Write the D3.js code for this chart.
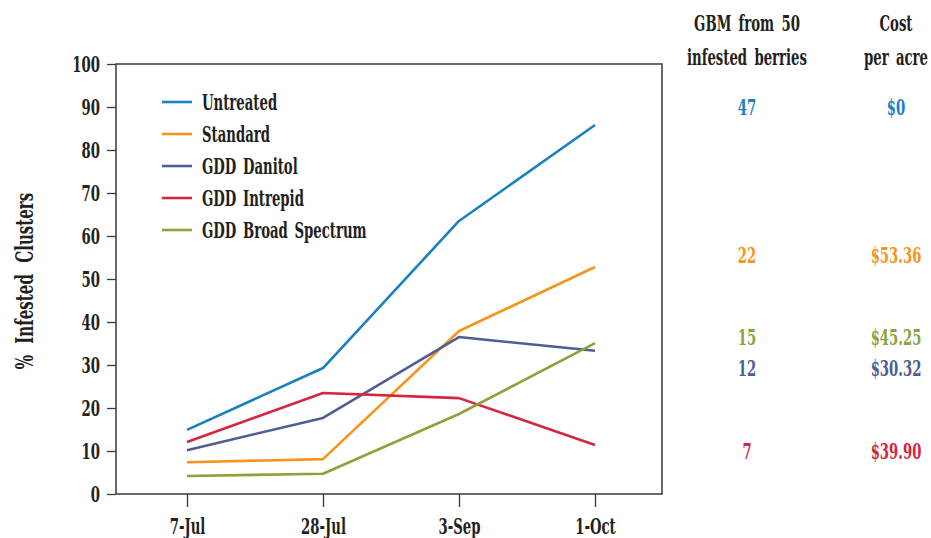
<!DOCTYPE html>
<html><head><meta charset="utf-8">
<script src="https://cdn.jsdelivr.net/npm/d3@7"></script>
<style>
body{margin:0;background:#fff;}
text{font-family:"DejaVu Serif Condensed","DejaVu Serif","Liberation Serif",serif;font-weight:bold;fill:#231f20;}
</style></head>
<body><svg id="c" width="931" height="538"></svg>
<script>
const dates = ["7-Jul","28-Jul","3-Sep","1-Oct"];
const seriesNames = ["Untreated","Standard","GDD Danitol","GDD Intrepid","GDD Broad Spectrum"];
const untreated = [14.9, 29.3, 63.5, 85.8];
const standard = [7.4, 8.1, 37.9, 52.8];
const danitol = [10.2, 17.7, 36.5, 33.3];
const intrepid = [12.1, 23.5, 22.3, 11.4];
const broad = [4.2, 4.7, 18.6, 35.1];
const yTicks = [0,10,20,30,40,50,60,70,80,90,100];
const colors = ["#1a80c0","#f7941d","#4e5e93","#d5253f","#8aa33b"];
// side table
const gbm = ["47","22","15","12","7"];
const cost = ["$0","$53.36","$45.25","$30.32","$39.90"];
const tableColors = ["#1a80c0","#f7941d","#8aa33b","#4e5e93","#d5253f"];
const tableRowValue = [90, 55.6, 36.6, 29.4, 9.9]; // vertical position in y-axis units
const gbmHeader = ["GBM from 50","infested berries"];
const costHeader = ["Cost","per acre"];

const SX = 0.67; // horizontal condensing of the type
const FS = 22;

const svg = d3.select("#c");
const L=116,R=662,T=64,B=494;
const x = d3.scalePoint().domain(dates).range([L+3,R+1]).padding(0.5);
const y = d3.scaleLinear().domain([0,100]).range([B,T]);

function ctext(g, px, py, str, opts={}){
  const t = g.append("text")
    .attr("transform",`translate(${px},${py})${opts.rot?` rotate(${opts.rot})`:""} scale(${opts.sx||SX},1)`)
    .attr("font-size",opts.fs||FS)
    .attr("text-anchor",opts.anchor||"start")
    .text(str);
  if(opts.fill) t.style("fill",opts.fill);
  if(opts.ws) t.attr("word-spacing",opts.ws);
  return t;
}

svg.append("rect").attr("x",L).attr("y",T).attr("width",R-L).attr("height",B-T)
  .attr("fill","none").attr("stroke","#3a3a3a").attr("stroke-width",1.5);

const ya = svg.append("g").attr("transform",`translate(${L},0)`)
  .call(d3.axisLeft(y).tickValues(yTicks).tickSize(9).tickPadding(7));
ya.select(".domain").remove();
ya.selectAll("line").attr("stroke","#3a3a3a").attr("stroke-width",1.3);
ya.selectAll("text").attr("font-size",FS).attr("font-family",null).attr("fill","#231f20")
  .attr("x",-16/SX).attr("dy","0.36em").attr("transform",`scale(${SX},1)`);

const xa = svg.append("g").attr("transform",`translate(0,${B})`)
  .call(d3.axisBottom(x).tickSize(13));
xa.select(".domain").remove();
xa.selectAll("line").attr("stroke","#3a3a3a").attr("stroke-width",1.3);
xa.selectAll("text").attr("font-size",FS).attr("font-family",null).attr("fill","#231f20")
  .attr("y",40).attr("dy",0).attr("transform",`scale(${SX},1)`);

ctext(svg, 33, (T+B)/2 + 2, "% Infested Clusters", {rot:-90, anchor:"middle", fs:25, ws:9});

const allSeries = [untreated,standard,danitol,intrepid,broad];
const line = d3.line().x((d,i)=>x(dates[i])).y(d=>y(d));
allSeries.forEach((s,i)=>{
  svg.append("path").datum(s).attr("d",line).attr("fill","none")
    .attr("stroke",colors[i]).attr("stroke-width",2.6).attr("stroke-linejoin","round");
});

// legend
seriesNames.forEach((n,i)=>{
  const yy = 102 + i*32;
  svg.append("line").attr("x1",162).attr("x2",192).attr("y1",yy).attr("y2",yy)
    .attr("stroke",colors[i]).attr("stroke-width",2.6);
  ctext(svg, 202, yy+8, n, {ws:3});
});

// table
const c1=747,c2=896;
gbmHeader.forEach((t,i)=>ctext(svg,c1,31+i*34,t,{anchor:"middle",ws:4}));
costHeader.forEach((t,i)=>ctext(svg,c2,31+i*34,t,{anchor:"middle",ws:4}));
gbm.forEach((t,i)=>{
  ctext(svg,c1,y(tableRowValue[i])+8,t,{anchor:"middle",fill:tableColors[i]});
  ctext(svg,c2,y(tableRowValue[i])+8,cost[i],{anchor:"middle",fill:tableColors[i]});
});
</script></body></html>
